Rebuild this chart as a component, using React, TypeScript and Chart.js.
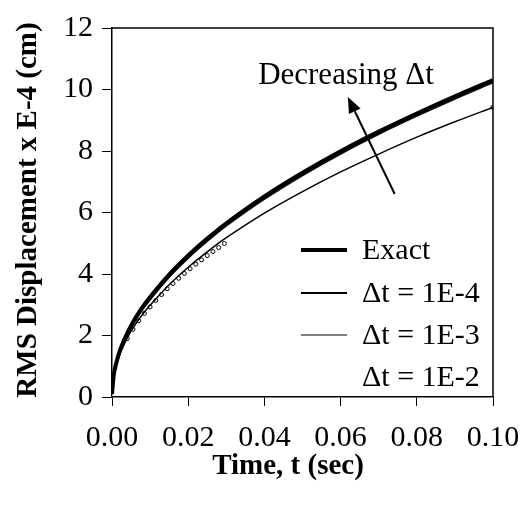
import React, { useEffect, useRef } from "react";
import { Chart, registerables } from "chart.js";

Chart.register(...registerables);

const times = [0, 0.0005, 0.001, 0.002, 0.003, 0.005, 0.0075, 0.01, 0.015, 0.02, 0.025, 0.03, 0.04, 0.05, 0.06, 0.07, 0.08, 0.09, 0.1];
const exactValues = [0.1, 0.75, 1.05, 1.48, 1.8, 2.32, 2.83, 3.25, 3.98, 4.6, 5.15, 5.65, 6.52, 7.29, 7.99, 8.63, 9.22, 9.78, 10.31];
const dt1e4Values = [0.1, 0.72, 1.0, 1.43, 1.74, 2.25, 2.76, 3.17, 3.9, 4.52, 5.07, 5.57, 6.44, 7.21, 7.91, 8.55, 9.14, 9.7, 10.23];
const dt1e3Values = [0.1, 0.68, 0.96, 1.36, 1.66, 2.14, 2.6, 2.98, 3.65, 4.22, 4.72, 5.18, 5.98, 6.68, 7.32, 7.9, 8.45, 8.95, 9.42];
const dt1e2Times = [0.004, 0.0055, 0.007, 0.0085, 0.01, 0.0115, 0.013, 0.0145, 0.016, 0.0175, 0.019, 0.0205, 0.022, 0.0235, 0.025, 0.0265, 0.028, 0.0295, 0.1];
const dt1e2Values = [1.9, 2.2, 2.48, 2.72, 2.93, 3.14, 3.33, 3.52, 3.69, 3.86, 4.02, 4.17, 4.32, 4.46, 4.6, 4.73, 4.86, 4.99, 9.42];

const seriesLabels = ["Exact", "\u0394t = 1E-4", "\u0394t = 1E-3", "\u0394t = 1E-2"];
const yTicks = [0, 2, 4, 6, 8, 10, 12];
const xTicks = [0, 0.02, 0.04, 0.06, 0.08, 0.1];
const xTitle = "Time, t (sec)";
const yTitle = "RMS Displacement x E-4 (cm)";
const annotationText = "Decreasing \u0394t";

const SERIF = "'Liberation Serif', 'Times New Roman', serif";

const pts = (xs: number[], ys: number[]) => xs.map((x, i) => ({ x, y: ys[i] }));

const overlayPlugin = {
  id: "overlay",
  afterDraw(chart: any) {
    const ctx = chart.ctx;
    const a = chart.chartArea;
    const xs = chart.scales.x;
    const ys = chart.scales.y;
    ctx.save();
    // frame top and right
    ctx.strokeStyle = "#000";
    ctx.lineWidth = 1.5;
    ctx.beginPath();
    ctx.moveTo(a.left, a.top);
    ctx.lineTo(a.right, a.top);
    ctx.lineTo(a.right, a.bottom);
    ctx.stroke();

    // titles
    ctx.fillStyle = "#000";
    ctx.font = `bold 29px ${SERIF}`;
    ctx.textAlign = "center";
    ctx.textBaseline = "middle";
    ctx.fillText(xTitle, 288, 467);
    ctx.save();
    ctx.translate(29, 210);
    ctx.rotate(-Math.PI / 2);
    ctx.fillText(yTitle, 0, 0);
    ctx.restore();

    // legend
    const rows = [250, 293, 335, 377];
    const widths = [4, 2, 1.2, 0];
    ctx.font = `30px ${SERIF}`;
    ctx.textAlign = "left";
    ctx.textBaseline = "middle";
    chart.data.datasets.forEach((ds: any, i: number) => {
      const y = rows[i];
      if (widths[i] > 0) {
        ctx.strokeStyle = "#000";
        ctx.lineWidth = widths[i];
        ctx.beginPath();
        ctx.moveTo(301, y);
        ctx.lineTo(347, y);
        ctx.stroke();
      }
      ctx.fillText(ds.label, 362, y + 1);
    });

    // annotation
    ctx.font = `31px ${SERIF}`;
    ctx.textAlign = "center";
    ctx.fillText(annotationText, 346, 76);
    const x0 = xs.getPixelForValue(0.0742), y0 = ys.getPixelForValue(6.6);
    const x1 = xs.getPixelForValue(0.0619), y1 = ys.getPixelForValue(9.76);
    const ang = Math.atan2(y1 - y0, x1 - x0);
    const hl = 16, hw = 6.5;
    const bx = x1 - hl * Math.cos(ang), by = y1 - hl * Math.sin(ang);
    ctx.strokeStyle = "#000";
    ctx.lineWidth = 2;
    ctx.beginPath();
    ctx.moveTo(x0, y0);
    ctx.lineTo(bx, by);
    ctx.stroke();
    ctx.beginPath();
    ctx.moveTo(x1, y1);
    ctx.lineTo(bx + hw * Math.sin(ang), by - hw * Math.cos(ang));
    ctx.lineTo(bx - hw * Math.sin(ang), by + hw * Math.cos(ang));
    ctx.closePath();
    ctx.fill();
    ctx.restore();
  },
};

export default function App() {
  const ref = useRef<HTMLCanvasElement | null>(null);
  useEffect(() => {
    if (!ref.current) return;
    const chart = new Chart(ref.current, {
      type: "scatter",
      data: {
        datasets: [
          { label: seriesLabels[0], data: pts(times, exactValues), showLine: true, borderColor: "#000", borderWidth: 4, pointRadius: 0, tension: 0.3 },
          { label: seriesLabels[1], data: pts(times, dt1e4Values), showLine: true, borderColor: "#111", borderWidth: 2, pointRadius: 0, tension: 0.3 },
          { label: seriesLabels[2], data: pts(times, dt1e3Values), showLine: true, borderColor: "#000", borderWidth: 1.5, pointRadius: 0, tension: 0.3 },
          { label: seriesLabels[3], data: pts(dt1e2Times, dt1e2Values), showLine: false, borderColor: "#000", backgroundColor: "#fff", borderWidth: 1, pointRadius: 2 },
        ],
      },
      options: {
        responsive: false,
        animation: false,
        layout: { padding: { left: 0, top: 28, right: 31, bottom: 0 } },
        plugins: { legend: { display: false }, tooltip: { enabled: false } },
        scales: {
          x: {
            type: "linear",
            min: 0,
            max: 0.1,
            afterFit: (s: any) => { s.height = 108; s.paddingLeft = 0; s.paddingRight = 0; },
            afterBuildTicks: (s: any) => { s.ticks = xTicks.map((v) => ({ value: v })); },
            ticks: { color: "#000", font: { family: SERIF, size: 30 }, padding: 14, maxRotation: 0, callback: (v: any) => Number(v).toFixed(2) },
            grid: { drawOnChartArea: false, drawTicks: true, tickLength: 9, color: "#000", lineWidth: 1 },
            border: { display: true, color: "#000", width: 1.5 },
          },
          y: {
            type: "linear",
            min: 0,
            max: 12,
            afterFit: (s: any) => { s.width = 112; s.paddingTop = 0; s.paddingBottom = 0; },
            afterBuildTicks: (s: any) => { s.ticks = yTicks.map((v) => ({ value: v })); },
            ticks: { color: "#000", font: { family: SERIF, size: 30 }, padding: 9 },
            grid: { drawOnChartArea: false, drawTicks: true, tickLength: 10, color: "#000", lineWidth: 1 },
            border: { display: true, color: "#000", width: 1.5 },
          },
        },
      },
      plugins: [overlayPlugin],
    });
    return () => chart.destroy();
  }, []);
  return (
    <div style={{ position: "fixed", left: 0, top: 0, width: 524, height: 505, background: "#fff" }}>
      <canvas ref={ref} width={524} height={505} style={{ width: 524, height: 505 }} />
    </div>
  );
}
